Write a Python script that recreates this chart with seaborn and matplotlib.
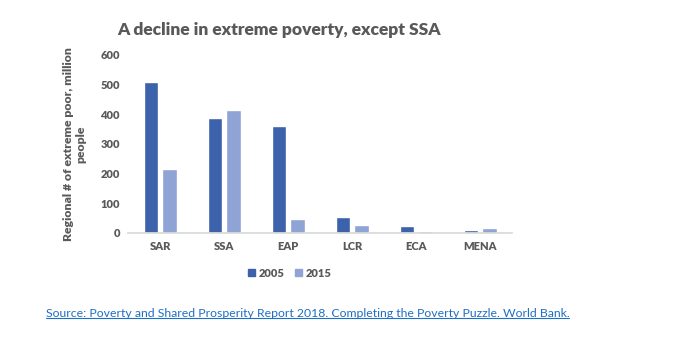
import matplotlib
matplotlib.use("Agg")
import matplotlib.pyplot as plt
import seaborn as sns
import pandas as pd
from matplotlib.patches import Patch
import matplotlib.font_manager as fm

regions = ["SAR", "SSA", "EAP", "LCR", "ECA", "MENA"]
years = ["2005", "2015"]
poor_2005 = [508, 388, 361, 54, 22, 9]
poor_2015 = [216, 413, 47, 27, 7, 18]
yticks = [0, 100, 200, 300, 400, 500, 600]

df = pd.DataFrame({
    "region": regions * 2,
    "year": [years[0]] * len(regions) + [years[1]] * len(regions),
    "value": poor_2005 + poor_2015,
})

sns.set_theme(style="white")
plt.rcParams['font.family'] = ['Lato', 'DejaVu Sans']

fig = plt.figure(figsize=(6.82, 3.45), dpi=100)
ax = fig.add_axes([0.188, 0.325, 0.563, 0.516])
gray = "#595959"
c1, c2 = "#3B62AB", "#8FA3D5"
sns.barplot(data=df, x="region", y="value", hue="year", order=regions,
            hue_order=years, palette=[c1, c2], width=0.58,
            gap=0.22, ax=ax, legend=False, saturation=1)
ax.set_ylim(0, 600)
ax.set_yticks(yticks)
ax.set_xlim(-0.5, len(regions) - 0.5)
for s in ["top", "right", "left"]:
    ax.spines[s].set_visible(False)
ax.spines["bottom"].set_color("#D9D9D9")
ax.tick_params(axis="both", length=0, labelsize=8, colors=gray, pad=6)
for lab in ax.get_xticklabels() + ax.get_yticklabels():
    lab.set_fontweight("heavy")
ax.set_xlabel("")
ax.set_ylabel("Regional # of extreme poor, million\npeople", fontsize=8.8,
              fontweight="heavy", color=gray, labelpad=10)

fig.text(0.172, 0.912, "A decline in extreme poverty, except SSA", fontsize=12.5,
         fontweight="heavy", color=gray, va="center", ha="left")

handles = [Patch(color=c1), Patch(color=c2)]
fig.legend(handles, years, loc="center", bbox_to_anchor=(0.425, 0.208), ncol=2,
           frameon=False, handlelength=0.6, handleheight=0.6, handletextpad=0.3,
           columnspacing=1.0, prop={"size": 8, "weight": "heavy"}, labelcolor=gray)

t = fig.text(0.067, 0.09, "Source: Poverty and Shared Prosperity Report 2018. Completing the Poverty Puzzle. World Bank.",
             color="#1F6FC5", ha="left", va="center")
t.set_fontproperties(fm.FontProperties(family=['Lato', 'DejaVu Sans'], size=8.8))
fig.canvas.draw()
bb = t.get_window_extent()
inv = fig.transFigure.inverted()
(x0, y0), (x1, y1) = inv.transform([(bb.x0, bb.y0), (bb.x1, bb.y1)])
fig.add_artist(plt.Line2D([x0, x1], [y0 + 0.003, y0 + 0.003], color="#1F6FC5", lw=0.8,
                          transform=fig.transFigure))

fig.savefig("out.png", dpi=100)
